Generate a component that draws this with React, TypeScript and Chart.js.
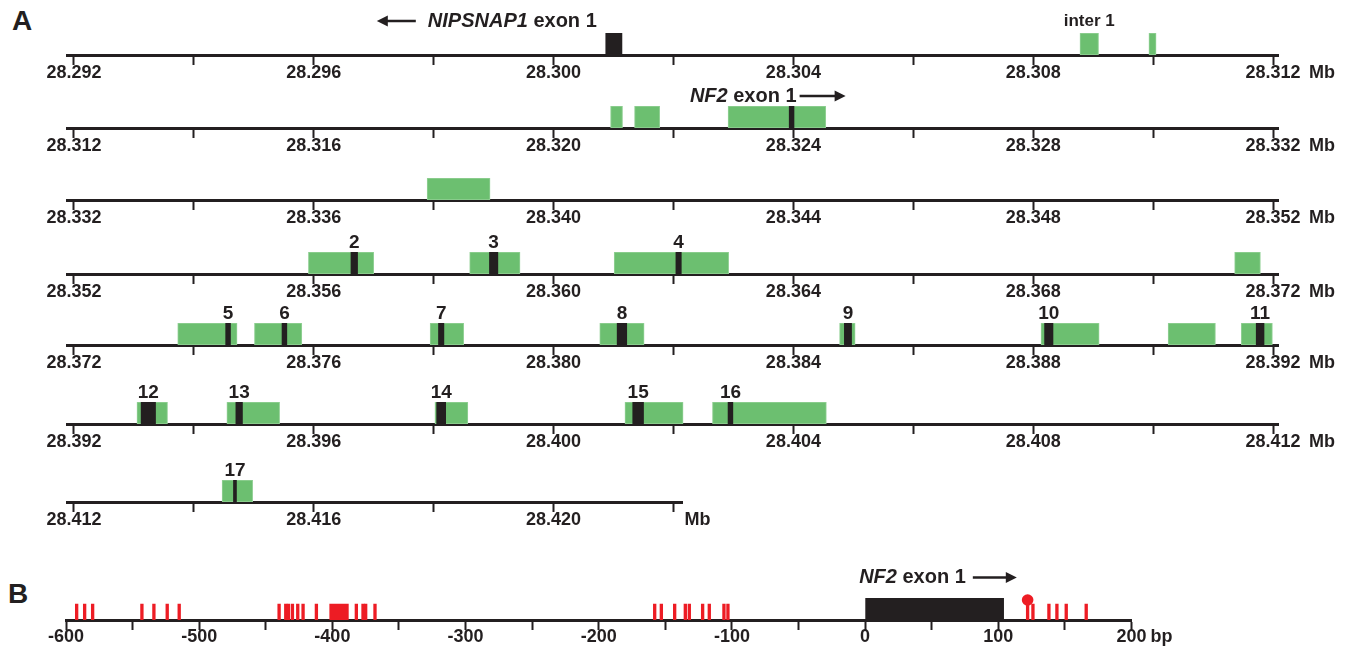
import React, { useEffect, useRef } from 'react';
import { Chart, registerables } from 'chart.js';

Chart.register(...registerables);

// ---------------- data ----------------
// Panel A: genomic rows (Mb)
const ROW_STARTS = [28.292, 28.312, 28.332, 28.352, 28.372, 28.392, 28.412];
const ROW_ENDS = [28.312, 28.332, 28.352, 28.372, 28.392, 28.412, 28.422];
const TICK_STEP_MB = 0.002;
const LABEL_EVERY_KB = 4;

// conserved regions (green), [start, end] in Mb
const CONSERVED_ROW1 = [[28.30878, 28.30909], [28.30993, 28.31005]];
const CONSERVED_ROW2 = [[28.32095, 28.32115], [28.32135, 28.32177], [28.32291, 28.32454]];
const CONSERVED_ROW3 = [[28.33789, 28.33894]];
const CONSERVED_ROW4 = [[28.35591, 28.357], [28.3586, 28.35944], [28.36101, 28.36292], [28.37136, 28.37179]];
const CONSERVED_ROW5 = [[28.37373, 28.37472], [28.37501, 28.3758], [28.37794, 28.3785], [28.38077, 28.38151], [28.38477, 28.38503], [28.38813, 28.3891], [28.39025, 28.39104], [28.39147, 28.39199]];
const CONSERVED_ROW6 = [[28.39305, 28.39356], [28.39455, 28.39543], [28.39802, 28.39857], [28.40119, 28.40216], [28.40265, 28.40455]];
const CONSERVED_ROW7 = [[28.41447, 28.41498]];

// exons (black), [start, end, label]
const EXONS_ROW1: [number, number, string][] = [[28.30087, 28.30114, '']];
const EXONS_ROW2: [number, number, string][] = [[28.32393, 28.32401, '']];
const EXONS_ROW3: [number, number, string][] = [];
const EXONS_ROW4: [number, number, string][] = [[28.35662, 28.35673, '2'], [28.35893, 28.35907, '3'], [28.36204, 28.36213, '4']];
const EXONS_ROW5: [number, number, string][] = [[28.37453, 28.37461, '5'], [28.37547, 28.37555, '6'], [28.37808, 28.37817, '7'], [28.38106, 28.38122, '8'], [28.38485, 28.38497, '9'], [28.38819, 28.38833, '10'], [28.39172, 28.39185, '11']];
const EXONS_ROW6: [number, number, string][] = [[28.39312, 28.39336, '12'], [28.3947, 28.39481, '13'], [28.39805, 28.3982, '14'], [28.40132, 28.4015, '15'], [28.40291, 28.40299, '16']];
const EXONS_ROW7: [number, number, string][] = [[28.41466, 28.41471, '17']];

const CONSERVED = [CONSERVED_ROW1, CONSERVED_ROW2, CONSERVED_ROW3, CONSERVED_ROW4, CONSERVED_ROW5, CONSERVED_ROW6, CONSERVED_ROW7];
const EXONS = [EXONS_ROW1, EXONS_ROW2, EXONS_ROW3, EXONS_ROW4, EXONS_ROW5, EXONS_ROW6, EXONS_ROW7];

const NIPSNAP1_NOTE = { row: 0, gene: 'NIPSNAP1', suffix: ' exon 1', anchor: 28.30087 };
const NF2_NOTE = { row: 1, gene: 'NF2', suffix: ' exon 1', anchor: 28.32397 };
const INTER_NOTE = { row: 0, text: 'inter 1', anchor: 28.308935 };
const UNIT_A = 'Mb';

// Panel B: bp relative to NF2 exon 1
const B_MIN = -600;
const B_MAX = 200;
const B_TICK_STEP = 50;
const B_LABEL_EVERY = 100;
const CPG_SITES = [-592, -586, -580, -543, -534, -524, -515, -440, -435, -433, -430, -426, -422, -412, -382, -377, -375, -368,
  -158, -153, -143, -135, -132, -122, -117, -106, -103, 122, 126, 138, 144, 151, 166];
const CPG_BLOCKS = [[-402, -388]];
const NF2_EXON1_BP = [0, 104];
const MARKED_SITE = 122;
const UNIT_B = 'bp';

// ---------------- style ----------------
const W = 1349;
const FONT = '"Liberation Sans", Arial, Helvetica, sans-serif';
const INK = '#231f20';
const GREEN = '#6cbf70';
const GREEN_EDGE = '#93d196';
const RED = '#ed1c24';

const X0 = 74;
const PX_PER_MB = 59950;
const ROW_LINE_Y = [55, 128, 200, 274, 345, 424, 502];
const B_LINE_Y = 619.5;
const PAD_TOP = 30;
const BOX_H = 22;
const AXIS_H = 40;
const B_AXIS_H = 30;
const TICK_LEN = 10;
const TICK_SIZE = 18;

function drawNote(ctx: CanvasRenderingContext2D, gene: string, suffix: string, x: number, y: number, align: 'left' | 'right', size: number) {
  const f1 = `italic bold ${size}px ${FONT}`;
  const f2 = `bold ${size}px ${FONT}`;
  ctx.font = f1;
  const w1 = ctx.measureText(gene).width;
  ctx.font = f2;
  const w2 = ctx.measureText(suffix).width;
  const left = align === 'left' ? x : x - (w1 + w2);
  ctx.fillStyle = INK;
  ctx.textAlign = 'left';
  ctx.textBaseline = 'middle';
  ctx.font = f1;
  ctx.fillText(gene, left, y);
  ctx.font = f2;
  ctx.fillText(suffix, left + w1, y);
  return [left, left + w1 + w2];
}

function drawArrow(ctx: CanvasRenderingContext2D, from: number, tip: number, y: number) {
  const d = Math.sign(tip - from);
  ctx.save();
  ctx.strokeStyle = INK;
  ctx.fillStyle = INK;
  ctx.lineWidth = 2.6;
  ctx.beginPath();
  ctx.moveTo(from, y);
  ctx.lineTo(tip - d * 6, y);
  ctx.stroke();
  ctx.beginPath();
  ctx.moveTo(tip, y);
  ctx.lineTo(tip - d * 11, y - 5.5);
  ctx.lineTo(tip - d * 11, y + 5.5);
  ctx.closePath();
  ctx.fill();
  ctx.restore();
}

function axisX(min: number, max: number, ticks: number[], label: (v: number) => string, pad: number, axisH: number) {
  return {
    type: 'linear',
    position: 'bottom',
    min,
    max,
    stacked: false,
    z: 1,
    afterFit: (s: any) => { s.height = axisH; },
    afterBuildTicks: (s: any) => { s.ticks = ticks.map((v) => ({ value: v })); },
    ticks: {
      autoSkip: false,
      maxRotation: 0,
      minRotation: 0,
      padding: pad,
      color: INK,
      font: { family: FONT, size: TICK_SIZE, weight: 'bold' },
      callback: (v: any) => label(Number(v)),
    },
    grid: { display: true, drawOnChartArea: false, drawTicks: true, tickLength: TICK_LEN, tickWidth: 2, tickColor: INK, offset: false },
    border: { display: true, width: 3, color: INK },
  };
}

const yAxis = { type: 'linear', min: 0, max: BOX_H, display: false, stacked: true, offset: false };

function rowConfig(i: number): any {
  const start = ROW_STARTS[i];
  const end = ROW_ENDS[i];
  const last = i === ROW_STARTS.length - 1;
  const leftExt = 7;
  const rightExt = last ? 9 : 6;
  const endPx = X0 + (end - start) * PX_PER_MB;
  const padLeft = X0 - leftExt;
  const padRight = W - (endPx + rightExt);
  const n = Math.round((end - start) / TICK_STEP_MB);
  const ticks: number[] = [];
  for (let k = 0; k <= n; k++) ticks.push(+(start + k * TICK_STEP_MB).toFixed(3));
  const tickPad = -3;
  const label = (v: number) => {
    const kb = Math.round((v - start) * 1000);
    return kb % LABEL_EVERY_KB === 0 ? v.toFixed(3) : '';
  };

  const green = CONSERVED[i].map(([a, b]) => ({ x: [a, b], y: BOX_H / 2 }));
  const black = EXONS[i].map(([a, b]) => ({ x: [a, b], y: BOX_H / 2 }));

  const decor = {
    id: 'rowDecor' + i,
    afterDraw(chart: any) {
      const { ctx, chartArea } = chart;
      const xs = chart.scales.x;
      ctx.save();
      // exon numbers
      ctx.fillStyle = INK;
      ctx.font = `bold 19px ${FONT}`;
      ctx.textAlign = 'center';
      ctx.textBaseline = 'alphabetic';
      EXONS[i].forEach(([a, b, t]) => {
        if (!t) return;
        ctx.fillText(t, xs.getPixelForValue((a + b) / 2), chartArea.top - 4);
      });
      // unit label
      ctx.font = `bold ${TICK_SIZE}px ${FONT}`;
      ctx.textAlign = 'left';
      ctx.textBaseline = 'middle';
      const uy = chartArea.bottom + TICK_LEN + tickPad + TICK_SIZE * 0.6;
      ctx.fillText(UNIT_A, xs.getPixelForValue(end) + (last ? 11 : 36), uy);
      // notes
      if (NIPSNAP1_NOTE.row === i) {
        const y = chartArea.top - 12;
        const [l] = drawNote(ctx, NIPSNAP1_NOTE.gene, NIPSNAP1_NOTE.suffix, xs.getPixelForValue(NIPSNAP1_NOTE.anchor) - 9, y, 'right', 20);
        drawArrow(ctx, l - 12, l - 51, y);
      }
      if (NF2_NOTE.row === i) {
        const y = chartArea.top - 10;
        const [, r] = drawNote(ctx, NF2_NOTE.gene, NF2_NOTE.suffix, xs.getPixelForValue(NF2_NOTE.anchor) + 5, y, 'right', 20);
        drawArrow(ctx, r + 3, r + 49, y);
      }
      if (INTER_NOTE.row === i) {
        ctx.fillStyle = INK;
        ctx.font = `bold 17px ${FONT}`;
        ctx.textAlign = 'center';
        ctx.textBaseline = 'middle';
        ctx.fillText(INTER_NOTE.text, xs.getPixelForValue(INTER_NOTE.anchor), chartArea.top - 12);
      }
      ctx.restore();
    },
  };

  return {
    type: 'bar',
    data: {
      // Chart.js paints the first dataset last, so exons (black) go first to sit on top
      datasets: [
        { data: black, backgroundColor: INK, borderWidth: 0, barThickness: BOX_H, stack: 's' },
        { data: green, backgroundColor: GREEN, borderColor: GREEN_EDGE, borderWidth: 1, borderSkipped: false, barThickness: BOX_H, stack: 's' },
      ],
    },
    options: {
      indexAxis: 'y',
      responsive: false,
      animation: false,
      events: [],
      layout: { padding: { left: padLeft, right: padRight, top: PAD_TOP, bottom: 0 } },
      plugins: { legend: { display: false }, tooltip: { enabled: false } },
      scales: { x: axisX(start - leftExt / PX_PER_MB, end + rightExt / PX_PER_MB, ticks, label, tickPad, AXIS_H), y: yAxis },
    },
    plugins: [decor],
  };
}

function panelBConfig(): any {
  const padLeft = 66;
  const padRight = W - 1131.5;
  const ticks: number[] = [];
  for (let v = B_MIN; v <= B_MAX; v += B_TICK_STEP) ticks.push(v);
  const tickPad = -4;
  const label = (v: number) => (v % B_LABEL_EVERY === 0 ? String(v) : '');
  const marks = [
    ...CPG_SITES.map((s) => ({ x: [s - 1, s + 1], y: 8 })),
    ...CPG_BLOCKS.map(([a, b]) => ({ x: [a, b], y: 8 })),
  ];
  const decor = {
    id: 'bDecor',
    afterDraw(chart: any) {
      const { ctx, chartArea } = chart;
      const xs = chart.scales.x;
      ctx.save();
      ctx.fillStyle = INK;
      ctx.font = `bold ${TICK_SIZE}px ${FONT}`;
      ctx.textAlign = 'left';
      ctx.textBaseline = 'middle';
      const uy = chartArea.bottom + TICK_LEN + tickPad + TICK_SIZE * 0.6;
      ctx.fillText(UNIT_B, xs.getPixelForValue(B_MAX) + 19, uy);
      const y = chartArea.top - 20.5;
      const [, r] = drawNote(ctx, 'NF2', ' exon 1', xs.getPixelForValue(NF2_EXON1_BP[0]) - 6, y, 'left', 20);
      drawArrow(ctx, r + 7, r + 51, y);
      ctx.restore();
    },
  };
  return {
    type: 'bar',
    data: {
      datasets: [
        { data: [{ x: NF2_EXON1_BP, y: BOX_H / 2 }], backgroundColor: INK, borderWidth: 0, barThickness: BOX_H, stack: 's' },
        { data: marks, backgroundColor: RED, borderWidth: 0, barThickness: 16, stack: 's' },
        { type: 'scatter', data: [{ x: MARKED_SITE, y: 20 }], backgroundColor: RED, borderColor: RED, borderWidth: 0, pointRadius: 5.8, clip: false },
      ],
    },
    options: {
      indexAxis: 'y',
      responsive: false,
      animation: false,
      events: [],
      layout: { padding: { left: padLeft, right: padRight, top: PAD_TOP, bottom: 0 } },
      plugins: { legend: { display: false }, tooltip: { enabled: false } },
      scales: { x: axisX(B_MIN, B_MAX, ticks, label, tickPad, B_AXIS_H), y: yAxis },
    },
    plugins: [decor],
  };
}

const ROW_MAKERS = ROW_STARTS.map((_, i) => () => rowConfig(i));

function ChartBox({ top, height, make }: { top: number; height: number; make: () => any }) {
  const ref = useRef<HTMLCanvasElement | null>(null);
  useEffect(() => {
    if (!ref.current) return;
    const chart = new Chart(ref.current, make());
    return () => chart.destroy();
  }, [make]);
  return (
    <canvas
      ref={ref}
      width={W}
      height={height}
      style={{ position: 'absolute', left: 0, top, width: W, height, display: 'block' }}
    />
  );
}

const panelLetter: React.CSSProperties = {
  position: 'absolute',
  fontFamily: FONT,
  fontWeight: 'bold',
  fontSize: 28,
  lineHeight: 1,
  color: INK,
};

export default function App() {
  const rowH = PAD_TOP + BOX_H + AXIS_H;
  const bH = PAD_TOP + BOX_H + B_AXIS_H;
  return (
    <div style={{ position: 'absolute', left: 0, top: 0, width: W, height: 650, overflow: 'hidden', background: '#fff' }}>
      <div style={{ ...panelLetter, left: 12, top: 7 }}>A</div>
      <div style={{ ...panelLetter, left: 8, top: 580 }}>B</div>
      {ROW_MAKERS.map((mk, i) => (
        <ChartBox key={i} top={ROW_LINE_Y[i] - BOX_H - PAD_TOP} height={rowH} make={mk} />
      ))}
      <ChartBox top={B_LINE_Y - BOX_H - PAD_TOP} height={bH} make={panelBConfig} />
    </div>
  );
}
